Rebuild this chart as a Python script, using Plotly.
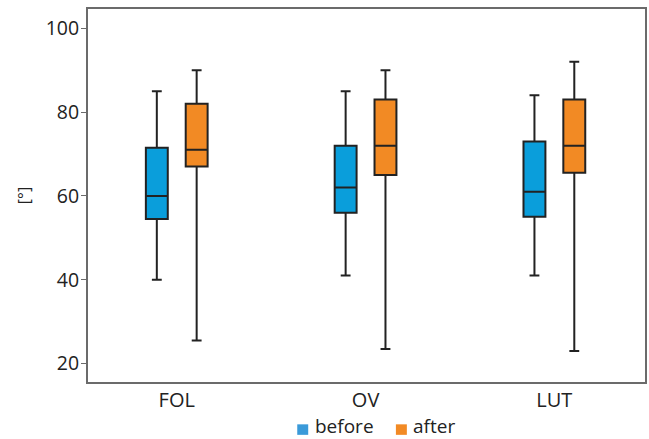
import plotly.graph_objects as go

categories = ["FOL", "OV", "LUT"]

before_upper = [85, 85, 84]
before_q3 = [71.5, 72, 73]
before_median = [60, 62, 61]
before_q1 = [54.5, 56, 55]
before_lower = [40, 41, 41]

after_upper = [90, 90, 92]
after_q3 = [82, 83, 83]
after_median = [71, 72, 72]
after_q1 = [67, 65, 65.5]
after_lower = [25.5, 23.5, 23]

series_names = ["before", "after"]
blue = "#0a9edb"
orange = "#f28a24"
legend_colors = ["#3a9ad9", orange]

fig = go.Figure()
fig.add_trace(go.Box(
    name=series_names[0], x=categories,
    q1=before_q1, median=before_median, q3=before_q3,
    lowerfence=before_lower, upperfence=before_upper,
    fillcolor=blue, line=dict(color="#222222", width=2),
    whiskerwidth=0.45, boxpoints=False, showlegend=False,
))
fig.add_trace(go.Box(
    name=series_names[1], x=categories,
    q1=after_q1, median=after_median, q3=after_q3,
    lowerfence=after_lower, upperfence=after_upper,
    fillcolor=orange, line=dict(color="#222222", width=2),
    whiskerwidth=0.45, boxpoints=False, showlegend=False,
))

# legend drawn below the axis (paper coordinates)
PL, PR, PT, PB = 88, 647, 9, 381.7
def px(x):
    return (x - PL) / (PR - PL)
def py(y):
    return (PB - y) / (PB - PT)

legend_items = [(298, 315), (397, 413)]  # square left, text left (pixels)
shapes = []
annotations = []
for (sq_left, txt_left), nm, col in zip(legend_items, series_names, legend_colors):
    shapes.append(dict(type="rect", xref="paper", yref="paper",
                       x0=px(sq_left), x1=px(sq_left + 11),
                       y0=py(434.5), y1=py(424),
                       fillcolor=col, line=dict(width=0)))
    annotations.append(dict(text=nm, xref="paper", yref="paper",
                            x=px(txt_left), y=py(426),
                            xanchor="left", yanchor="middle", showarrow=False,
                            borderpad=0,
                            font=dict(size=19, color="#222")))

fig.update_layout(
    width=649, height=439,
    margin=dict(l=PL, r=649 - PR, t=PT, b=439 - PB),
    paper_bgcolor="white", plot_bgcolor="white",
    boxmode="group", boxgap=0.578, boxgroupgap=0.45,
    font=dict(family="Open Sans, sans-serif", size=18, color="#222"),
    showlegend=False,
    shapes=shapes, annotations=annotations,
)
fig.update_xaxes(
    range=[-0.47, 2.48],
    showline=True, linecolor="#6b6b6b", linewidth=2, mirror=True,
    showgrid=False, ticks="", tickfont=dict(size=20), ticklabelstandoff=-1,
)
fig.update_yaxes(
    range=[15.6, 104.6], tickvals=[20, 40, 60, 80, 100],
    showline=True, linecolor="#6b6b6b", linewidth=2, mirror=True,
    showgrid=False, zeroline=False, ticks="outside", ticklen=5, tickcolor="#6b6b6b",
    tickfont=dict(size=19.5), ticklabelstandoff=-2,
    title=dict(text="[°]", font=dict(size=16), standoff=11),
)

fig.write_html("out.html")
